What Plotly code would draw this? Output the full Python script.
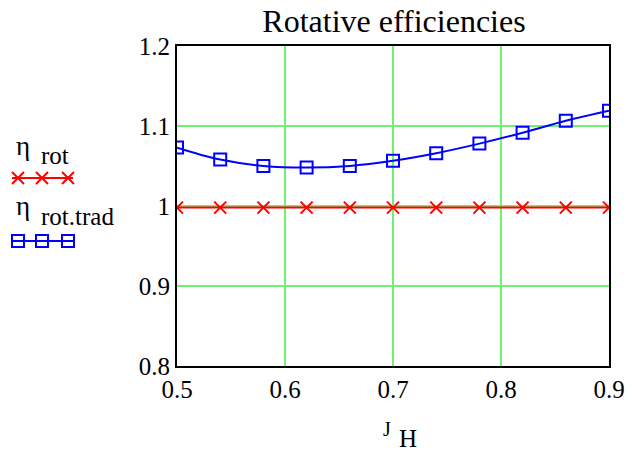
import plotly.graph_objects as go

# ---- data ----
J_H = [0.50, 0.54, 0.58, 0.62, 0.66, 0.70, 0.74, 0.78, 0.82, 0.86, 0.90]
eta_rot = [0.998, 0.998, 0.998, 0.998, 0.998, 0.998, 0.998, 0.998, 0.998, 0.998, 0.998]
eta_rot_trad = [1.073, 1.058, 1.050, 1.048, 1.050, 1.0565, 1.066, 1.078, 1.0915, 1.1065, 1.119]
x_ticks = [0.5, 0.6, 0.7, 0.8, 0.9]
y_ticks = [0.8, 0.9, 1.0, 1.1, 1.2]
title_text = "Rotative efficiencies"

# legend key geometry (in pixel units of an auxiliary axis)
key_x = [12, 73]
key_marker_x = [18, 42, 68]
key_red_y = 188
key_blue_y = 125

W, H = 632, 453
ML, MR, MT, MB = 0, 23, 46, 87
PW = W - ML - MR
PH = H - MT - MB
main_left = 177 / PW

FONT = "Liberation Serif"
RED = "#ff0000"
BLUE = "#0000ff"
GRID = "#70f070"

fig = go.Figure()

fig.add_trace(go.Scatter(
    x=J_H, y=eta_rot, mode="lines+markers",
    line=dict(color=RED, width=2),
    marker=dict(symbol="x-thin", size=12, line=dict(color=RED, width=2), color=RED),
    showlegend=False, xaxis="x", yaxis="y"))

fig.add_trace(go.Scatter(
    x=J_H, y=eta_rot_trad, mode="lines+markers",
    line=dict(color=BLUE, width=2, shape="spline"),
    marker=dict(symbol="square-open", size=12, line=dict(color=BLUE, width=2), color=BLUE),
    showlegend=False, xaxis="x", yaxis="y"))

# legend keys
fig.add_trace(go.Scatter(x=key_x, y=[key_red_y] * 2, mode="lines",
                         line=dict(color=RED, width=2), showlegend=False,
                         xaxis="x2", yaxis="y2", hoverinfo="skip"))
fig.add_trace(go.Scatter(x=key_marker_x, y=[key_red_y] * 3, mode="markers",
                         marker=dict(symbol="x-thin", size=12, color=RED,
                                     line=dict(color=RED, width=2)),
                         showlegend=False, xaxis="x2", yaxis="y2", hoverinfo="skip"))
fig.add_trace(go.Scatter(x=key_x, y=[key_blue_y] * 2, mode="lines",
                         line=dict(color=BLUE, width=2), showlegend=False,
                         xaxis="x2", yaxis="y2", hoverinfo="skip"))
fig.add_trace(go.Scatter(x=key_marker_x, y=[key_blue_y] * 3, mode="markers",
                         marker=dict(symbol="square-open", size=12, color=BLUE,
                                     line=dict(color=BLUE, width=2)),
                         showlegend=False, xaxis="x2", yaxis="y2", hoverinfo="skip"))

ann = []
def txt(x, y, t, size, xanchor="left", xref="x2", yref="y2"):
    ann.append(dict(x=x, y=y, xref=xref, yref=yref, text=t, showarrow=False,
                    xanchor=xanchor, yanchor="middle",
                    font=dict(family=FONT, size=size, color="black")))

# legend labels (pixel coordinates: y2 = 366 - pixel_y)
txt(14, 366 - 146, "η", 27)
txt(39, 366 - 155, "rot", 25)
txt(14, 366 - 206, "η", 27)
txt(39, 366 - 216, "rot.trad", 25)

# x axis title J_H
txt(387 / PW, (366 - 429) / PH, "J", 20, xanchor="center", xref="paper", yref="paper")
txt(408 / PW, (366 - 438) / PH, "H", 25, xanchor="center", xref="paper", yref="paper")

fig.update_layout(
    width=W, height=H,
    margin=dict(l=ML, r=MR, t=MT, b=MB),
    paper_bgcolor="white", plot_bgcolor="white",
    font=dict(family=FONT, size=24, color="black"),
    title=dict(text=title_text, x=394 / W, xanchor="center", y=1 - 21 / H, yanchor="middle",
               font=dict(family=FONT, size=32, color="black"), automargin=False),
    xaxis=dict(domain=[main_left, 1], range=[0.5, 0.9], tickvals=x_ticks,
               showgrid=True, gridcolor=GRID, gridwidth=1.5, automargin=False,
               showline=True, linecolor="black", linewidth=2, mirror=True,
               ticks="", zeroline=False, tickfont=dict(family=FONT, size=25, color="black")),
    yaxis=dict(range=[0.8, 1.2], tickvals=y_ticks, automargin=False,
               showgrid=True, gridcolor=GRID, gridwidth=1.5,
               showline=True, linecolor="black", linewidth=2, mirror=True,
               ticks="", zeroline=False, tickfont=dict(family=FONT, size=25, color="black")),
    xaxis2=dict(domain=[0, 0.2], range=[0, 0.2 * PW], visible=False, anchor="y2"),
    yaxis2=dict(domain=[0, 1], range=[0, PH], visible=False, anchor="x2"),
    annotations=ann,
)

fig.write_html("out.html", config={"displayModeBar": False},
               post_script="document.body.style.margin='0';")
